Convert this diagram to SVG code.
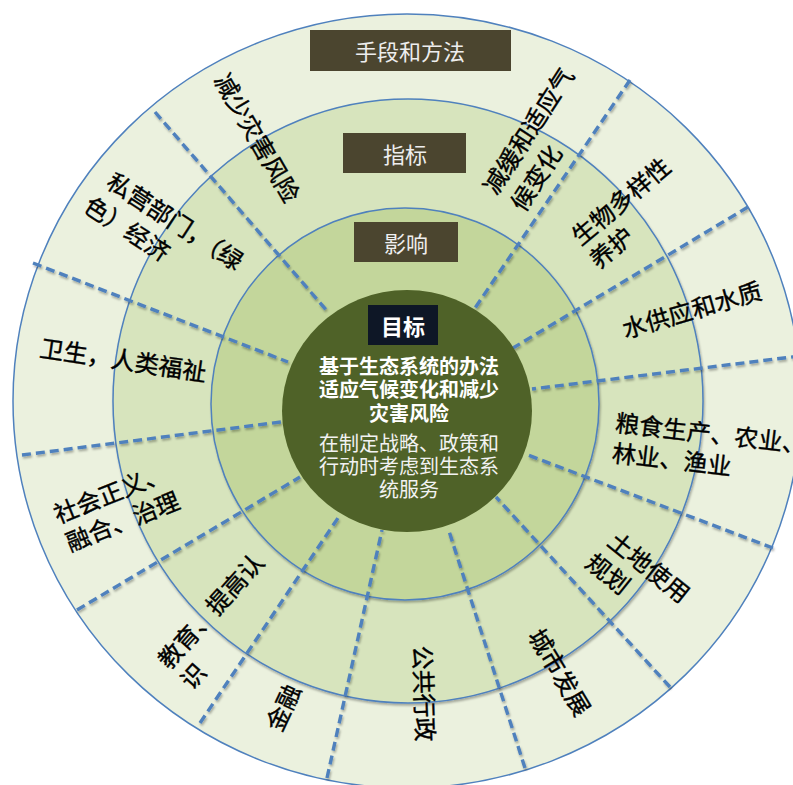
<svg xmlns="http://www.w3.org/2000/svg" width="793" height="785" viewBox="0 0 793 785">
<defs>
<style>
.ring{stroke:#4F81BD;stroke-width:1.5}
.dash{stroke:#4F81BD;stroke-width:3.4;stroke-dasharray:9 5;fill:none}
.lbl{font-family:"Noto Sans CJK SC","Noto Sans",sans-serif;font-size:24px;fill:#000;stroke:#000;stroke-width:0.4;text-anchor:middle;dominant-baseline:central}
.box{fill:#4B452F}
.boxt{font-family:"Noto Sans CJK SC","Noto Sans",sans-serif;font-size:22px;fill:#EEEEEE;text-anchor:middle;dominant-baseline:central}
.ct{font-family:"Noto Sans CJK SC","Noto Sans",sans-serif;font-size:20px;fill:#F2F2F2;text-anchor:middle;dominant-baseline:central}
.ctb{font-weight:bold;fill:#FFFFFF}
</style>
<filter id="sh" x="-10%" y="-10%" width="120%" height="120%">
<feDropShadow dx="1" dy="2" stdDeviation="1" flood-color="#000" flood-opacity="0.3"/>
</filter>
</defs>
<rect width="793" height="785" fill="#FFFFFF"/>
<g id="ring-methods"><ellipse class="ring" cx="407" cy="401" rx="394" ry="387" fill="#EBF1DE"/></g>
<g id="ring-indicators"><ellipse class="ring" cx="408" cy="401" rx="295" ry="302" fill="#D7E4BD" filter="url(#sh)"/></g>
<g id="ring-impacts"><ellipse class="ring" cx="405" cy="404" rx="194" ry="196" fill="#C3D69B" filter="url(#sh)"/></g>
<g id="connectors" filter="url(#sh)">
<line class="dash" x1="155" y1="112" x2="328" y2="312"/>
<line class="dash" x1="33" y1="263" x2="288" y2="362"/>
<line class="dash" x1="22" y1="455" x2="281" y2="422"/>
<line class="dash" x1="77" y1="610" x2="300" y2="477"/>
<line class="dash" x1="200" y1="723" x2="340" y2="515"/>
<line class="dash" x1="327" y1="778" x2="382" y2="530"/>
<line class="dash" x1="525" y1="768" x2="448" y2="528"/>
<line class="dash" x1="670" y1="687" x2="496" y2="497"/>
<line class="dash" x1="773" y1="548" x2="528" y2="455"/>
<line class="dash" x1="800" y1="356" x2="532" y2="389"/>
<line class="dash" x1="748" y1="207" x2="513" y2="348"/>
<line class="dash" x1="630" y1="80" x2="475" y2="308"/>
</g>
<g id="goal">
<ellipse cx="407" cy="411" rx="125" ry="121" fill="#4F6228"/>
<rect x="368" y="305" width="70" height="40" fill="#0E1726"/>
<text class="boxt" x="403" y="325" style="fill:#FFFFFF;font-weight:bold">目标</text>
<text class="ct ctb" x="409" y="365">基于生态系统的办法</text>
<text class="ct ctb" x="409" y="388">适应气候变化和减少</text>
<text class="ct ctb" x="409" y="412">灾害风险</text>
<text class="ct" x="409" y="442">在制定战略、政策和</text>
<text class="ct" x="409" y="465">行动时考虑到生态系</text>
<text class="ct" x="409" y="488">统服务</text>
</g>
<g id="box-methods"><rect class="box" x="310" y="30" width="201" height="41"/><text class="boxt" x="410" y="50">手段和方法</text></g>
<g id="box-indicators"><rect class="box" x="343" y="133" width="123" height="40"/><text class="boxt" x="405" y="153">指标</text></g>
<g id="box-impacts"><rect class="box" x="354" y="222" width="104" height="40"/><text class="boxt" x="406" y="242">影响</text></g>
<g id="lbl-drr"><text class="lbl" transform="translate(258.5,137) rotate(60)">减少灾害风险</text></g>
<g id="lbl-private">
<text class="lbl" transform="translate(176,220) rotate(33)">私营部门，（绿</text>
<text class="lbl" transform="translate(128,227.5) rotate(33)">色）经济</text>
</g>
<g id="lbl-health"><text class="lbl" transform="translate(123.5,358.5) rotate(8.5)">卫生，人类福祉</text></g>
<g id="lbl-social">
<text class="lbl" transform="translate(110,492) rotate(-21.8)">社会正义、</text>
<text class="lbl" transform="translate(122,520) rotate(-21.8)">融合、治理</text>
</g>
<g id="lbl-education">
<text class="lbl" transform="translate(209.5,610) rotate(-48)">教育、提高认</text>
<text class="lbl" transform="translate(192,675) rotate(-48)">识</text>
</g>
<g id="lbl-finance"><text class="lbl" transform="translate(282,707) rotate(-65)">金融</text></g>
<g id="lbl-public"><text class="lbl" transform="translate(425.5,693.5) rotate(88)">公共行政</text></g>
<g id="lbl-urban"><text class="lbl" transform="translate(561,671.5) rotate(59)">城市发展</text></g>
<g id="lbl-land">
<text class="lbl" transform="translate(650,566) rotate(38.7)">土地使用</text>
<text class="lbl" transform="translate(609,572.5) rotate(38.7)">规划</text>
</g>
<g id="lbl-food">
<text class="lbl" transform="translate(711,432) rotate(6.7)">粮食生产、农业、</text>
<text class="lbl" transform="translate(672,458) rotate(6.7)">林业、渔业</text>
</g>
<g id="lbl-water"><text class="lbl" transform="translate(691.5,308.5) rotate(-16)">水供应和水质</text></g>
<g id="lbl-bio">
<text class="lbl" transform="translate(620,200) rotate(-40)">生物多样性</text>
<text class="lbl" transform="translate(610.5,246.5) rotate(-40)">养护</text>
</g>
<g id="lbl-climate">
<text class="lbl" transform="translate(527,130) rotate(-57)">减缓和适应气</text>
<text class="lbl" transform="translate(535,177) rotate(-57)">候变化</text>
</g>
</svg>
